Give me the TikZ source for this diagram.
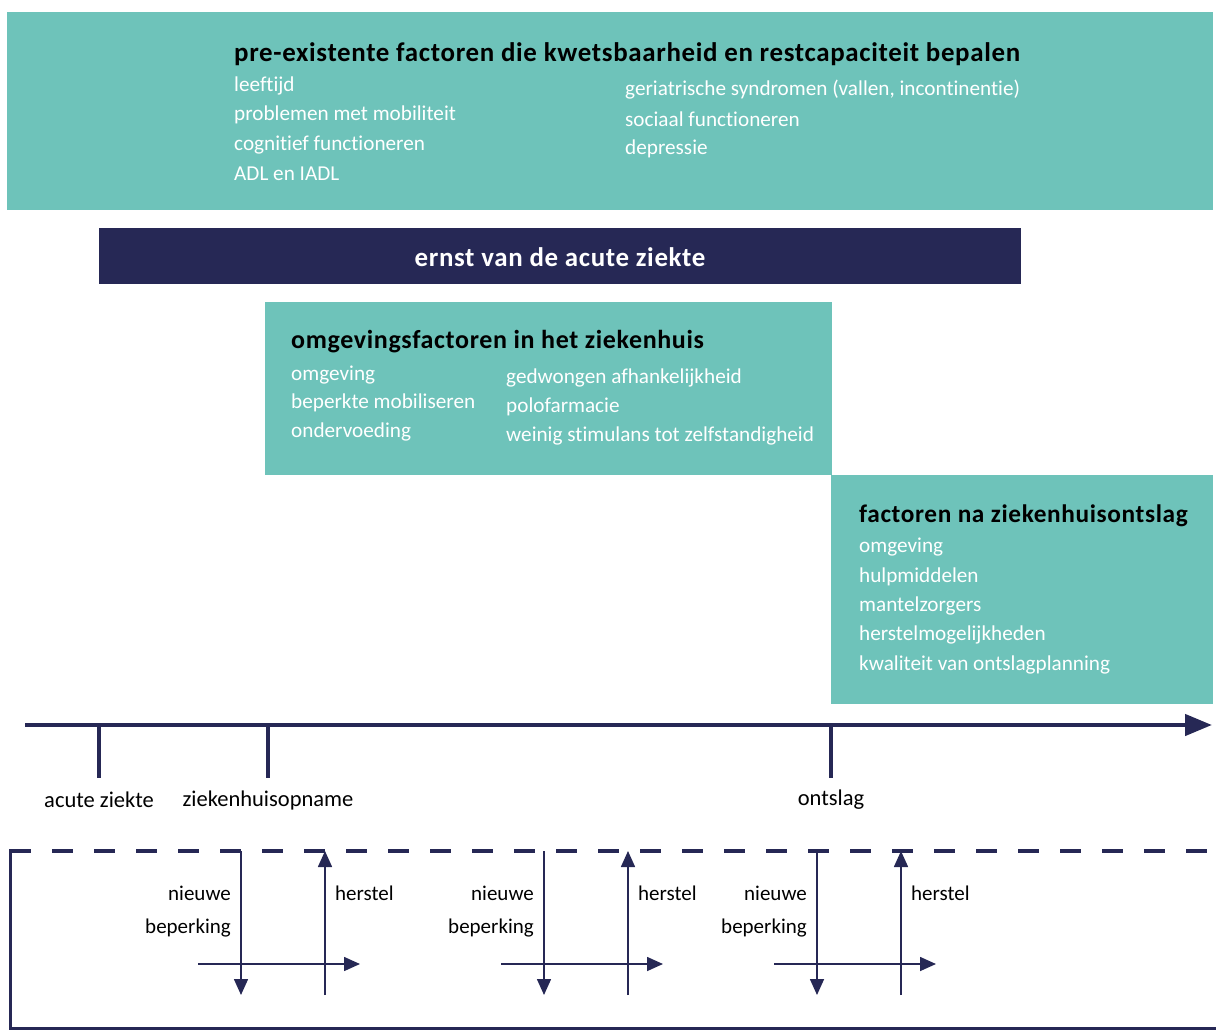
\documentclass[tikz,border=0pt]{standalone}
\usepackage{fontspec}
\setmainfont{Carlito}[Ligatures={NoCommon}]
\usetikzlibrary{arrows.meta}
\definecolor{teal}{HTML}{6EC3BA}
\definecolor{navy}{HTML}{262855}
\begin{document}
\begin{tikzpicture}[x=1pt,y=-1pt,
  box/.style={fill=teal,draw=none},
  ttl/.style={anchor=west,inner sep=0pt,font=\fontsize{#1}{28}\selectfont\bfseries\addfontfeature{LetterSpace=2.5},text=black},
  ttl/.default=26,
  itm/.style={anchor=west,inner sep=0pt,font=\fontsize{21.2}{24}\selectfont,text=white},
  lbl/.style={inner sep=0pt,font=\fontsize{21}{24}\selectfont,text=black},
  tlbl/.style={inner sep=0pt,font=\fontsize{22.5}{25}\selectfont,text=black},
  tl/.style={draw=navy,line width=4.5pt},
  tick/.style={draw=navy,line width=4pt},
  thin/.style={draw=navy,line width=1.6pt,-{Triangle[length=16pt,width=14pt]}}
]
\useasboundingbox (0,0) rectangle (1216,1030);
% boxes
\fill[box] (7,12) rectangle (1213,210);
\fill[navy] (99,228) rectangle (1021,284);
\fill[box] (265,302) rectangle (832,475);
\fill[box] (831,475) rectangle (1213,704);
% top box texts
\node[ttl=26.9] (t1) at (234,54) {pre-existente factoren die kwetsbaarheid en restcapaciteit bepalen};
\node[itm] (a1) at (234,86) {leeftijd};
\node[itm] (a2) at (234,115) {problemen met mobiliteit};
\node[itm] (a3) at (234,145) {cognitief functioneren};
\node[itm] (a4) at (234,174) {ADL en IADL};
\node[itm] (b1) at (625,90) {geriatrische syndromen (vallen, incontinentie)};
\node[itm] (b2) at (625,119) {sociaal functioneren};
\node[itm] (b3) at (625,149) {depressie};
% navy bar
\node[ttl=26.9,anchor=center,text=white] (ernst) at (560,257) {ernst van de acute ziekte};
% middle box
\node[ttl] (t2) at (291,342) {omgevingsfactoren in het ziekenhuis};
\node[itm] (c1) at (291,375) {omgeving};
\node[itm] (c2) at (291,403) {beperkte mobiliseren};
\node[itm] (c3) at (291,432) {ondervoeding};
\node[itm] (d1) at (506,378) {gedwongen afhankelijkheid};
\node[itm] (d2) at (506,407) {polofarmacie};
\node[itm] (d3) at (506,436) {weinig stimulans tot zelfstandigheid};
% right box
\node[ttl=25.3] (t3) at (859,516) {factoren na ziekenhuisontslag};
\node[itm] (e1) at (859,547) {omgeving};
\node[itm] (e2) at (859,577) {hulpmiddelen};
\node[itm] (e3) at (859,606) {mantelzorgers};
\node[itm] (e4) at (859,635) {herstelmogelijkheden};
\node[itm] (e5) at (859,665) {kwaliteit van ontslagplanning};
% timeline
\coordinate (ts) at (25,725);
\coordinate (te) at (1212,725);
\draw[tl,-{Triangle[length=27pt,width=21pt]}] (ts) -- (te);
\coordinate (k1) at (99,725); \coordinate (k1b) at (99,778);
\coordinate (k2) at (268,725); \coordinate (k2b) at (268,778);
\coordinate (k3) at (831,725); \coordinate (k3b) at (831,778);
\draw[tick] (k1) -- (k1b);
\draw[tick] (k2) -- (k2b);
\draw[tick] (k3) -- (k3b);
\node[tlbl] (l1) at (99,800) {acute ziekte};
\node[tlbl] (l2) at (268,800) {ziekenhuisopname};
\node[tlbl] (l3) at (831,800) {ontslag};
% bottom frame
\coordinate (f1) at (10,851); \coordinate (f2) at (1216,851);
\coordinate (f3) at (10,1028); \coordinate (f4) at (1216,1028);
\draw[navy,line width=4pt,dash pattern=on 21pt off 21pt] (f1) -- (f2);
\draw[navy,line width=3pt] (10,849) -- (f3) -- (f4);
% groups
\foreach \gx/\n in {0/1,303/2,576/3}{
  \coordinate (dn\n) at (241+\gx,851);
  \coordinate (dne\n) at (241+\gx,995);
  \coordinate (up\n) at (325+\gx,995);
  \coordinate (upe\n) at (325+\gx,851);
  \coordinate (hs\n) at (198+\gx,964);
  \coordinate (he\n) at (360+\gx,964);
  \draw[thin] (dn\n) -- (dne\n);
  \draw[thin] (up\n) -- (upe\n);
  \draw[thin] (hs\n) -- (he\n);
  \node[lbl,anchor=east] (nw\n) at (231+\gx,893) {nieuwe};
  \node[lbl,anchor=east] (bp\n) at (231+\gx,928) {beperking};
  \node[lbl,anchor=west] (hr\n) at (335+\gx,893) {herstel};
}
\end{tikzpicture}
\end{document}
